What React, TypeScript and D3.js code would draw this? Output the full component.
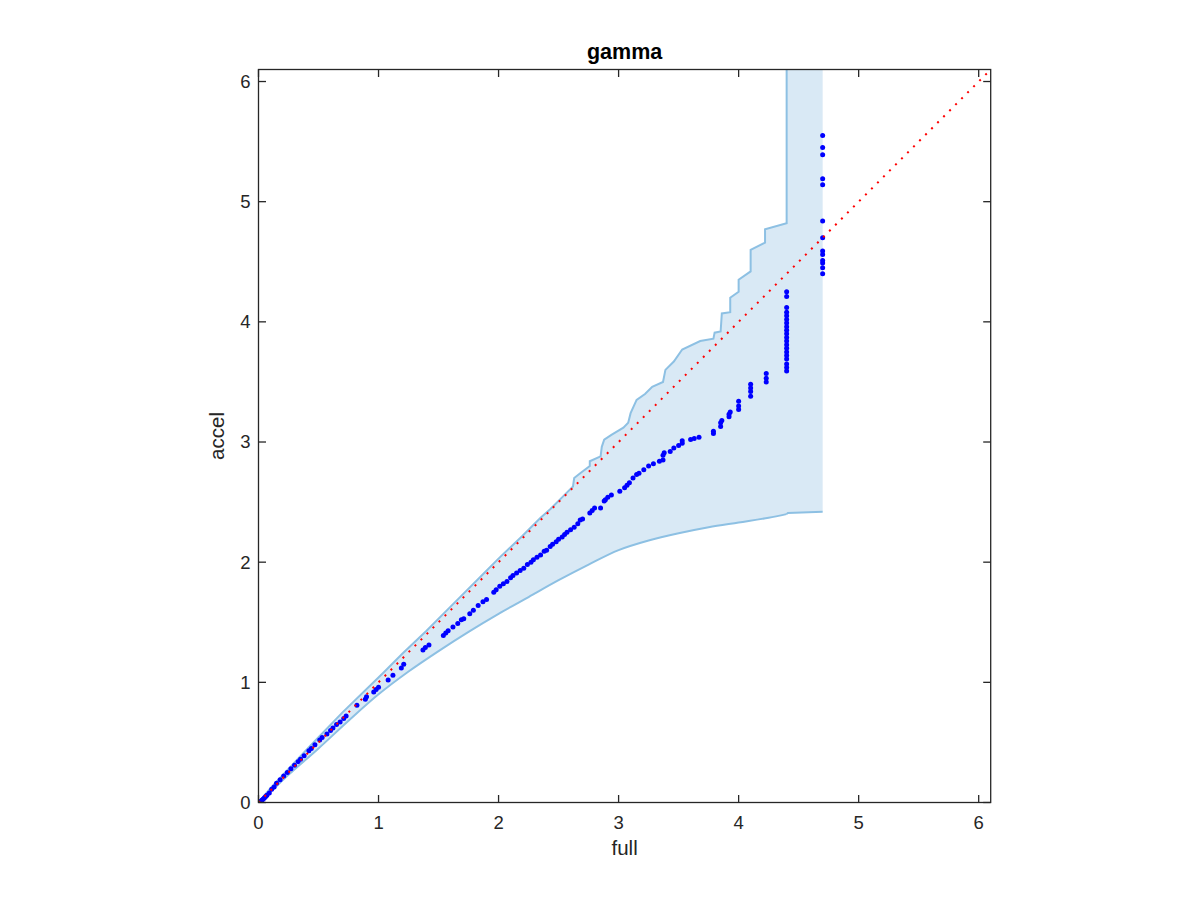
import React, { useRef, useEffect } from 'react';
import * as d3 from 'd3';

const WIDTH = 1200;
const HEIGHT = 900;
const MARGIN = { top: 69.5, right: 209.3, bottom: 97.5, left: 258.5 };

const X_MAX = 6.1;
const Y_MAX = 6.1;
const TICKS = [0, 1, 2, 3, 4, 5, 6];

// upper confidence bound (full, accel) - goes off the top at 4.4
const upperX = [0, 0.1, 0.25, 0.43, 0.7, 1.04, 1.2, 1.4, 1.6, 1.87, 2.01, 2.2, 2.35, 2.43, 2.55, 2.62, 2.63, 2.68, 2.76, 2.76, 2.85, 2.86, 2.88, 2.94, 3.04, 3.08, 3.1, 3.15, 3.22, 3.28, 3.37, 3.39, 3.46, 3.53, 3.68, 3.79, 3.8, 3.85, 3.86, 3.93, 3.93, 4.0, 4.0, 4.1, 4.1, 4.22, 4.22, 4.4, 4.4];
const upperY = [0, 0.12, 0.28, 0.47, 0.75, 1.08, 1.24, 1.43, 1.63, 1.9, 2.04, 2.22, 2.37, 2.44, 2.56, 2.63, 2.7, 2.74, 2.8, 2.84, 2.88, 2.96, 3.02, 3.06, 3.12, 3.16, 3.24, 3.35, 3.4, 3.46, 3.5, 3.6, 3.67, 3.77, 3.84, 3.86, 3.91, 3.92, 4.07, 4.08, 4.2, 4.25, 4.35, 4.42, 4.6, 4.66, 4.77, 4.82, 7];

// lower confidence bound
const lowerX = [0, 0.1, 0.25, 0.5, 0.75, 1.0, 1.25, 1.5, 1.75, 2.0, 2.25, 2.5, 2.75, 3.0, 3.25, 3.5, 3.75, 4.0, 4.25, 4.4, 4.41, 4.7];
const lowerY = [0, 0.09, 0.23, 0.45, 0.68, 0.9, 1.09, 1.26, 1.42, 1.57, 1.71, 1.85, 1.98, 2.1, 2.18, 2.24, 2.29, 2.33, 2.37, 2.4, 2.41, 2.42];
const BAND_END = 4.7;

// sorted quantile points (full, accel)
const fullVals = [
  0, 0.01, 0.02, 0.03, 0.04, 0.05, 0.06, 0.07, 0.09, 0.11, 0.13, 0.15, 0.18, 0.21, 0.24, 0.27, 0.3, 0.33, 0.35, 0.38,
  0.42, 0.44, 0.47, 0.51, 0.53, 0.57, 0.6, 0.62, 0.65, 0.68, 0.71, 0.73, 0.82, 0.89, 0.9, 0.96, 0.98, 1.0, 1.08, 1.12,
  1.19, 1.21, 1.37, 1.39, 1.42, 1.54, 1.56, 1.58, 1.62, 1.66, 1.69, 1.71, 1.76, 1.79, 1.83, 1.87, 1.9, 1.96, 1.98, 2.01,
  2.04, 2.07, 2.1, 2.12, 2.15, 2.18, 2.21, 2.24, 2.27, 2.29, 2.32, 2.35, 2.38, 2.4, 2.43, 2.45, 2.48, 2.5, 2.53, 2.55,
  2.57, 2.6, 2.63, 2.66, 2.68, 2.7, 2.76, 2.78, 2.8, 2.85, 2.88, 2.89, 2.91, 2.94, 3.01, 3.05, 3.07, 3.09, 3.12, 3.15,
  3.17, 3.21, 3.25, 3.29, 3.34, 3.37, 3.37, 3.38, 3.43, 3.46, 3.5, 3.53, 3.53, 3.6, 3.63, 3.67, 3.79, 3.79, 3.85, 3.85,
  3.86, 3.92, 3.92, 3.93, 4.0, 4.0, 4.0, 4.1, 4.1, 4.1, 4.1, 4.23, 4.23, 4.23,
  4.4, 4.4, 4.4, 4.4, 4.4, 4.4, 4.4, 4.4, 4.4, 4.4, 4.4, 4.4, 4.4, 4.4, 4.4, 4.4, 4.4, 4.4, 4.4, 4.4,
  4.7, 4.7, 4.7, 4.7, 4.7, 4.7, 4.7, 4.7, 4.7, 4.7, 4.7, 4.7, 4.7,
];
const accelVals = [
  0, 0.005, 0.01, 0.02, 0.03, 0.04, 0.05, 0.06, 0.08, 0.11, 0.13, 0.16, 0.19, 0.22, 0.25, 0.28, 0.31, 0.34, 0.36, 0.39,
  0.43, 0.45, 0.48, 0.52, 0.54, 0.57, 0.6, 0.62, 0.65, 0.67, 0.7, 0.72, 0.81, 0.86, 0.88, 0.92, 0.94, 0.96, 1.02, 1.06,
  1.12, 1.15, 1.27, 1.29, 1.31, 1.39, 1.41, 1.43, 1.46, 1.49, 1.52, 1.53, 1.57, 1.6, 1.64, 1.67, 1.69, 1.75, 1.77, 1.8,
  1.82, 1.84, 1.87, 1.89, 1.91, 1.93, 1.95, 1.98, 2.0, 2.02, 2.04, 2.06, 2.09, 2.1, 2.13, 2.15, 2.17, 2.19, 2.21, 2.23,
  2.25, 2.27, 2.29, 2.32, 2.35, 2.36, 2.41, 2.43, 2.45, 2.45, 2.51, 2.52, 2.54, 2.56, 2.59, 2.62, 2.64, 2.66, 2.7, 2.73,
  2.74, 2.77, 2.8, 2.82, 2.84, 2.85, 2.89, 2.91, 2.92, 2.95, 2.97, 2.99, 3.01, 3.02, 3.03, 3.04, 3.07, 3.09, 3.13, 3.16,
  3.18, 3.21, 3.23, 3.25, 3.27, 3.3, 3.34, 3.38, 3.42, 3.45, 3.48, 3.5, 3.53, 3.57,
  3.59, 3.62, 3.65, 3.69, 3.72, 3.75, 3.78, 3.81, 3.84, 3.87, 3.9, 3.93, 3.96, 3.99, 4.02, 4.05, 4.08, 4.12, 4.21, 4.25,
  4.4, 4.45, 4.49, 4.51, 4.56, 4.59, 4.7, 4.84, 5.14, 5.19, 5.39, 5.45, 5.55,
];

const AXIS_COLOR = '#262626';
const FONT = '"Liberation Sans", Arial, Helvetica, sans-serif';

export default function App() {
  const svgRef = useRef<SVGSVGElement | null>(null);

  useEffect(() => {
    const svg = d3.select(svgRef.current);
    svg.selectAll('*').remove();

    const w = WIDTH - MARGIN.left - MARGIN.right;
    const h = HEIGHT - MARGIN.top - MARGIN.bottom;

    const x = d3.scaleLinear().domain([0, X_MAX]).range([0, w]);
    const y = d3.scaleLinear().domain([0, Y_MAX]).range([h, 0]);

    svg.append('rect').attr('width', WIDTH).attr('height', HEIGHT).attr('fill', '#fff');

    svg.append('defs').append('clipPath').attr('id', 'plot-clip')
      .append('rect').attr('width', w).attr('height', h);

    const g = svg.append('g').attr('transform', `translate(${MARGIN.left},${MARGIN.top})`);
    const plot = g.append('g').attr('clip-path', 'url(#plot-clip)');

    const upper = upperX.map((v, i) => [v, upperY[i]] as [number, number]);
    const lower = lowerX.map((v, i) => [v, lowerY[i]] as [number, number]);

    const line = d3.line<[number, number]>().x(d => x(d[0])).y(d => y(d[1]));
    const smooth = d3.line<[number, number]>().x(d => x(d[0])).y(d => y(d[1])).curve(d3.curveMonotoneX);

    // lower bound: smooth part, then the flat tail to the band end
    const lowerCurve = lower.slice(0, 20);
    const lowerTail = lower.slice(19);

    // band patch: upper edge -> right side -> flat tail back -> smooth lower back to 0
    const top = [...upper, [BAND_END, upperY[upperY.length - 1]] as [number, number], ...lowerTail.slice().reverse()];
    const backPath = smooth(lowerCurve.slice().reverse())!.replace(/^M/, 'L');
    plot.append('path')
      .attr('d', line(top) + backPath + 'Z')
      .attr('fill', '#d9e9f5')
      .attr('stroke', 'none');

    plot.append('path')
      .attr('d', line(upper))
      .attr('fill', 'none')
      .attr('stroke', '#8dc0e3')
      .attr('stroke-width', 2);

    plot.append('path')
      .attr('d', smooth(lowerCurve))
      .attr('fill', 'none')
      .attr('stroke', '#8dc0e3')
      .attr('stroke-width', 2);
    plot.append('path')
      .attr('d', line(lowerTail))
      .attr('fill', 'none')
      .attr('stroke', '#8dc0e3')
      .attr('stroke-width', 2);

    // quantile points
    plot.append('g')
      .selectAll('circle')
      .data(fullVals.map((v, i) => [v, accelVals[i]]))
      .join('circle')
      .attr('cx', d => x(d[0]))
      .attr('cy', d => y(d[1]))
      .attr('r', 2.5)
      .attr('fill', '#0000ff');

    // reference line y = x
    plot.append('path')
      .attr('d', line([[0, 0], [X_MAX, Y_MAX]]))
      .attr('fill', 'none')
      .attr('stroke', '#ff0000')
      .attr('stroke-width', 2)
      .attr('stroke-dasharray', '2,6.5');

    // box + inward ticks
    const axis = g.append('g').attr('stroke', AXIS_COLOR).attr('stroke-width', 1.3);
    axis.append('rect').attr('width', w).attr('height', h).attr('fill', 'none');
    const TL = 7.5;
    TICKS.forEach(t => {
      axis.append('line').attr('x1', x(t)).attr('x2', x(t)).attr('y1', h).attr('y2', h - TL);
      axis.append('line').attr('x1', x(t)).attr('x2', x(t)).attr('y1', 0).attr('y2', TL);
      axis.append('line').attr('y1', y(t)).attr('y2', y(t)).attr('x1', 0).attr('x2', TL);
      axis.append('line').attr('y1', y(t)).attr('y2', y(t)).attr('x1', w).attr('x2', w - TL);
    });

    const labels = g.append('g')
      .attr('font-family', FONT)
      .attr('font-size', 18.5)
      .attr('fill', AXIS_COLOR);

    labels.selectAll('text.xt')
      .data(TICKS)
      .join('text')
      .attr('class', 'xt')
      .attr('x', d => x(d))
      .attr('y', h + 26)
      .attr('text-anchor', 'middle')
      .text(d => d);

    labels.selectAll('text.yt')
      .data(TICKS)
      .join('text')
      .attr('class', 'yt')
      .attr('x', -8)
      .attr('y', d => y(d))
      .attr('dy', '0.35em')
      .attr('text-anchor', 'end')
      .text(d => d);

    // axis labels
    labels.append('text')
      .attr('x', w / 2)
      .attr('y', h + 52)
      .attr('text-anchor', 'middle')
      .attr('font-size', 20.5)
      .text('full');

    labels.append('text')
      .attr('transform', 'rotate(-90)')
      .attr('x', -h / 2)
      .attr('y', -35)
      .attr('text-anchor', 'middle')
      .attr('font-size', 20.5)
      .text('accel');

    // title
    g.append('text')
      .attr('x', w / 2)
      .attr('y', -11)
      .attr('text-anchor', 'middle')
      .attr('font-family', FONT)
      .attr('font-size', 21.5)
      .attr('font-weight', 'bold')
      .attr('fill', '#000')
      .text('gamma');
  }, []);

  return (
    <svg
      ref={svgRef}
      width={WIDTH}
      height={HEIGHT}
      style={{ position: 'absolute', left: 0, top: 0 }}
    />
  );
}
